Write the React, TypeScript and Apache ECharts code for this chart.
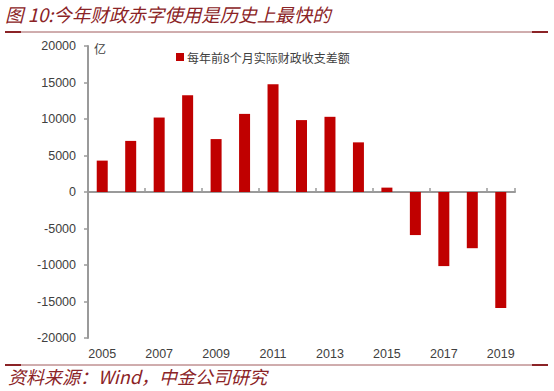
import React, { useEffect, useRef } from "react";
import * as echarts from "echarts";

const years = ["2005","2006","2007","2008","2009","2010","2011","2012","2013","2014","2015","2016","2017","2018","2019"];
const deficit = [4300, 7000, 10200, 13250, 7250, 10700, 14750, 9850, 10300, 6800, 600, -5900, -10150, -7700, -15900];
const seriesName = "每年前8个月实际财政收支差额";
const titleText = "图 10:今年财政赤字使用是历史上最快的";
const sourceText = "资料来源：Wind，中金公司研究";

export default function App() {
  const ref = useRef<HTMLDivElement>(null);
  useEffect(() => {
    const chart = echarts.init(ref.current!, null, { renderer: "svg" });
    const labelFont = "'Liberation Sans', Arial, sans-serif";
    const cjk = "'Noto Sans CJK SC', sans-serif";
    const dark = "#8B2326";
    chart.setOption({
      animation: false,
      backgroundColor: "#ffffff",
      grid: { left: 88, right: 39, top: 46, bottom: 53, containLabel: false },
      legend: {
        show: true,
        left: 171,
        top: 46,
        itemWidth: 8,
        itemHeight: 8,
        icon: "rect",
        itemGap: 4,
        textStyle: { fontFamily: cjk, fontSize: 12, color: "#404040", padding: [0, 0, 0, -2] },
        data: [seriesName],
      },
      xAxis: [
        {
          type: "category",
          data: years,
          axisLine: { onZero: true, lineStyle: { color: "#9a9a9a", width: 2 } },
          axisTick: { show: true, inside: true, length: 4, alignWithLabel: false, lineStyle: { color: "#9a9a9a", width: 1.5 } },
          axisLabel: { show: false },
        },
        {
          type: "category",
          data: years,
          position: "bottom",
          axisLine: { show: false, onZero: false },
          axisTick: { show: false },
          axisLabel: {
            show: true,
            interval: 1,
            margin: 9,
            fontFamily: labelFont,
            fontSize: 12.5,
            color: "#404040",
          },
        },
      ],
      yAxis: {
        type: "value",
        min: -20000,
        max: 20000,
        interval: 5000,
        name: "亿",
        nameLocation: "end",
        nameGap: -8,
        nameTextStyle: { fontFamily: cjk, fontSize: 12, color: "#404040", align: "left", padding: [0, 0, 0, 6] },
        splitLine: { show: false },
        axisLine: { show: true, lineStyle: { color: "#9a9a9a", width: 2 } },
        axisTick: { show: true, length: 4, lineStyle: { color: "#9a9a9a", width: 1.5 } },
        axisLabel: {
          fontFamily: labelFont,
          fontSize: 12.5,
          color: "#404040",
          margin: 12,
          formatter: (v: number) => String(v),
        },
      },
      series: [
        {
          name: seriesName,
          type: "bar",
          xAxisIndex: 0,
          data: deficit,
          barWidth: 11,
          itemStyle: { color: "#C00000" },
        },
      ],
      graphic: [
        {
          type: "text",
          left: 5,
          top: 5,
          style: { text: titleText, fontFamily: cjk, fontStyle: "italic", fontSize: 18.5, fill: dark },
        },
        { type: "line", shape: { x1: 5, y1: 32, x2: 548, y2: 32 }, style: { stroke: "#a05a5c", lineWidth: 1 } },
        { type: "line", shape: { x1: 5, y1: 32, x2: 21, y2: 32 }, style: { stroke: dark, lineWidth: 2 } },
        { type: "line", shape: { x1: 532, y1: 32, x2: 548, y2: 32 }, style: { stroke: dark, lineWidth: 2 } },
        { type: "line", shape: { x1: 5, y1: 365, x2: 548, y2: 365 }, style: { stroke: "#a05a5c", lineWidth: 1 } },
        { type: "line", shape: { x1: 5, y1: 365, x2: 21, y2: 365 }, style: { stroke: dark, lineWidth: 2 } },
        { type: "line", shape: { x1: 532, y1: 365, x2: 548, y2: 365 }, style: { stroke: dark, lineWidth: 2 } },
        {
          type: "text",
          left: 8,
          top: 367,
          style: { text: sourceText, fontFamily: cjk, fontStyle: "italic", fontSize: 18, fill: dark },
        },
      ],
    });
    return () => chart.dispose();
  }, []);
  return <div ref={ref} style={{ width: 554, height: 391, position: "absolute", left: 0, top: 0 }} />;
}
